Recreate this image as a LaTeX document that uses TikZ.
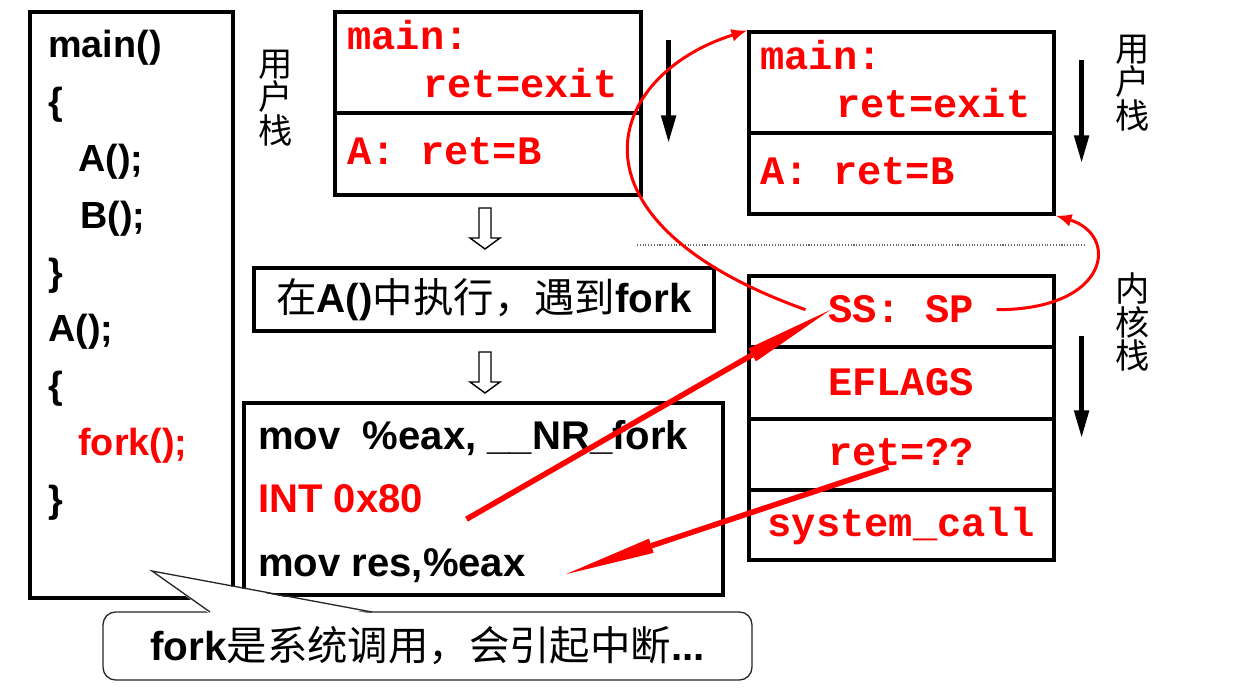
\documentclass[tikz,border=0pt]{standalone}
\usepackage{fontspec}
\setmainfont{Liberation Sans}
\setsansfont{Liberation Sans}
\setmonofont{Liberation Mono}
\newfontfamily\cjk{Noto Sans CJK SC}
\usetikzlibrary{positioning, arrows.meta}
\definecolor{StackRed}{RGB}{255, 0, 0}

\tikzset{
  box/.style={draw, line width=0.065cm, inner sep=0pt},
  listing/.style={font=\fontsize{21.5}{24}\selectfont\bfseries, anchor=base west, inner sep=0pt},
  asm/.style={font=\fontsize{22.8}{26}\selectfont\bfseries, anchor=base west, inner sep=0pt},
  frame/.style={font=\fontsize{23}{26}\selectfont\ttfamily\bfseries, text=StackRed, inner sep=0pt},
  vlabel/.style={font=\cjk\fontsize{19.5}{19}\selectfont, align=center, inner sep=0pt},
  hollow/.style={draw, line width=0.8pt, fill=white},
  growarrow/.style={line width=0.1cm, -{Triangle[length=0.56cm, width=0.28cm]}},
  curvearrow/.style={StackRed, line width=0.06cm, -{Latex[length=0.32cm, width=0.26cm]}},
  jumparrow/.style={StackRed, line width=0.11cm,
    -{Triangle[length=1.8cm, width=0.3cm, line width=0pt]}},
  bubble/.style={draw=black!85, line width=0.75pt, fill=white, rounded corners=0.25cm, inner sep=0pt}
}

\begin{document}
\begin{tikzpicture}[x=0.02cm, y=-0.02cm]
  \useasboundingbox (0,0) rectangle (1251,695);

  % Program listing
  \node[box, minimum width=4.06cm, minimum height=11.72cm] (prog) at (131.5,305) {};
  \node[listing] (lmain) at (48,58) {main()};
  \node[listing] (lopenA) at (48,115) {\{};
  \node[listing] (lcallA) at (78,172) {A();};
  \node[listing] (lcallB) at (80,229) {B();};
  \node[listing] (lcloseA) at (48,286) {\}};
  \node[listing] (ldefA) at (48,342) {A();};
  \node[listing] (lopenB) at (48,399) {\{};
  \node[listing, text=StackRed] (lfork) at (78,456) {fork();};
  \node[listing] (lcloseB) at (48,513) {\}};

  % User stack before the call
  \node[vlabel] (ulabelL) at (276,98) {用\\户\\栈};
  \node[box, minimum width=6.12cm, minimum height=3.66cm] (ustackL) at (488,103.5) {};
  \draw[box] (ustackL.west |- 0,113) -- (ustackL.east |- 0,113);
  \node[frame, anchor=base west] (mainL) at (347,50) {main:};
  \node[frame, anchor=base west] (exitL) at (423,98) {ret=exit};
  \node[frame, anchor=base west] (retBL) at (347,165) {A: ret=B};
  \draw[growarrow] ([shift={(26,30)}]ustackL.north east) -- ++(0,103);

  % Steps
  \foreach \y in {208,352}
    \draw[hollow] (479,\y) -- (491,\y) -- (491,\y+30) -- (500,\y+30) -- (485,\y+41)
      -- (470,\y+30) -- (479,\y+30) -- cycle;
  \node[box, minimum width=9.2cm, minimum height=1.26cm,
        font=\fontsize{23}{26}\selectfont] (findfork) at (484,299.5)
    {{\cjk 在}\textbf{A()}{\cjk 中执行，遇到}\textbf{fork}\hspace{0.2cm}};

  % Assembly
  \node[box, minimum width=9.58cm, minimum height=3.84cm] (asmbox) at (483.5,499) {};
  \node[asm] (movnr) at (258,450) {mov\ \ \%eax, \_\_NR\_fork};
  \node[asm, text=StackRed] (intcall) at (258,513) {INT 0x80};
  \node[asm] (movres) at (258,577) {mov res,\%eax};

  % User stack after the call
  \node[vlabel] (ulabelR) at (1133,83) {用\\户\\栈};
  \node[box, minimum width=6.1cm, minimum height=3.64cm] (ustackR) at (901.5,123) {};
  \draw[box] (ustackR.west |- 0,133) -- (ustackR.east |- 0,133);
  \node[frame, anchor=base west] (mainR) at (760,70) {main:};
  \node[frame, anchor=base west] (exitR) at (836,118) {ret=exit};
  \node[frame, anchor=base west] (retBR) at (760,185) {A: ret=B};
  \draw[growarrow] ([shift={(26,30)}]ustackR.north east) -- ++(0,103);

  \draw[densely dotted, black!60, line width=0.6pt] (637,245) -- (1084,245);

  % Kernel stack
  \node[vlabel] (klabel) at (1133,322) {内\\核\\栈};
  \node[box, minimum width=6.1cm, minimum height=5.68cm] (kstack) at (901.5,418) {};
  \foreach \y in {347,419,490}
    \draw[box] (kstack.west |- 0,\y) -- (kstack.east |- 0,\y);
  \node[frame, anchor=base, inner xsep=0.45cm] (ss) at (901,323) {SS: SP};
  \node[frame, anchor=base] (eflags) at (901,396) {EFLAGS};
  \node[frame, anchor=base] (ret) at (901,466) {ret=??};
  \node[frame, anchor=base] (syscall) at (901,537) {system\_call};
  \draw[growarrow] ([shift={(26,62)}]kstack.north east) -- ++(0,102);

  % Red arrows
  \draw[curvearrow] (ss.west) .. controls (555,220) and (605,75) .. (ustackR.north west);
  \draw[curvearrow] (ss.east) .. controls (1110,310) and (1120,235) .. (ustackR.south east);
  \draw[jumparrow] ([shift={(43,20)}]intcall.east) -- ([shift={(2,-13)}]ss.text);
  \draw[jumparrow] ([shift={(60,1)}]ret.text) -- ([shift={(40,8)}]movres.east);

  % Callout
  \node[bubble, minimum width=12.98cm, minimum height=1.36cm,
        font=\fontsize{23}{26}\selectfont] (note) at (427.5,646)
    {\textbf{fork}{\cjk 是系统调用，会引起中断}\textbf{...}};
  \coordinate (tip) at (152,571);
  \fill[white] (tip) -- (210,614) -- (372,614) -- cycle;
  \draw[draw=black!85, line width=0.75pt] (210,612) -- (tip) -- (372,612);
\end{tikzpicture}
\end{document}
